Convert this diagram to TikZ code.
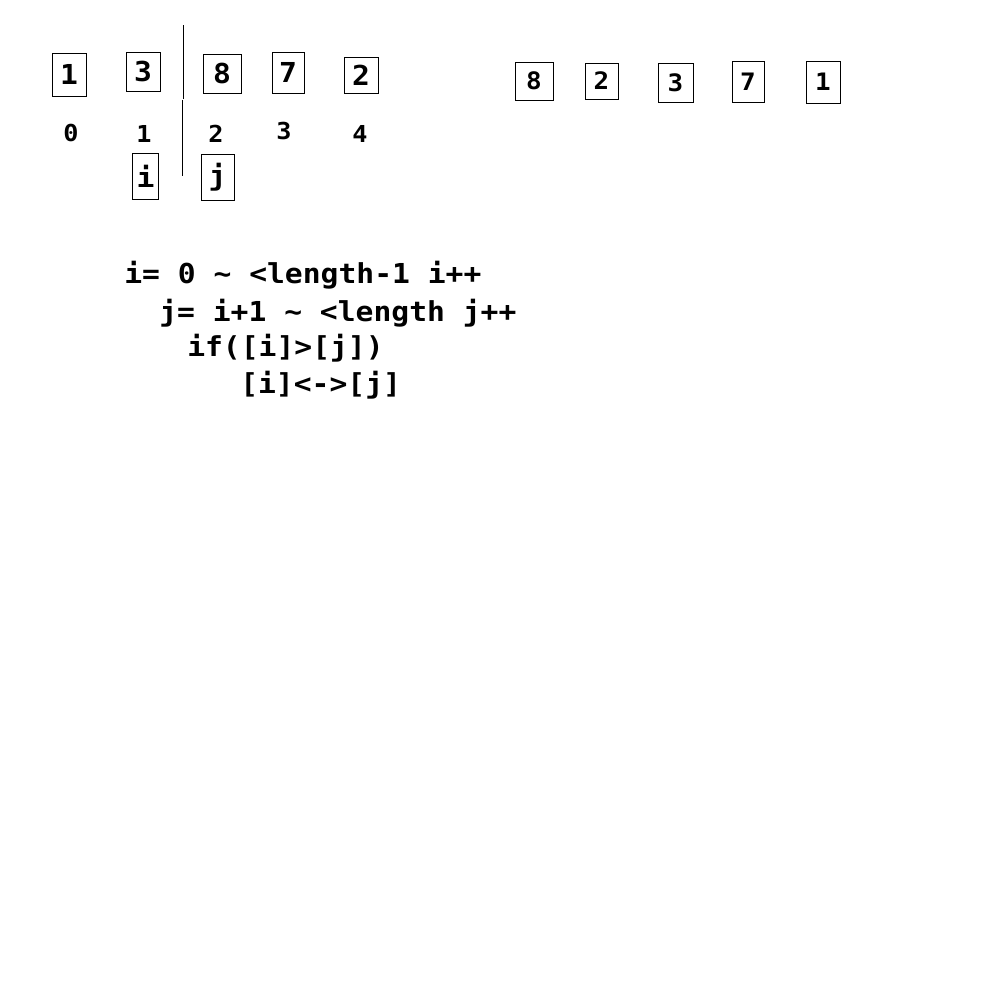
\documentclass[tikz,border=0pt]{standalone}
\usepackage{fontspec}
\setmonofont{DejaVu Sans Mono}[FakeStretch=1.08]
\newfontfamily\codefont{DejaVu Sans Mono}[FakeStretch=1.08]
\begin{document}
\begin{tikzpicture}[x=0.75pt,y=-0.75pt,
  cell/.style={draw,line width=0.75pt,inner sep=0pt,font=\codefont\bfseries\fontsize{20.6}{24}\selectfont},
  idx/.style={inner sep=0pt,font=\codefont\bfseries\fontsize{17.5}{21}\selectfont},
  rcell/.style={draw,line width=0.75pt,inner sep=0pt,font=\codefont\bfseries\fontsize{18}{22}\selectfont},
  code/.style={anchor=base west,inner sep=0pt,font=\codefont\bfseries\fontsize{20.6}{24}\selectfont},
  sep/.style={line width=0.75pt}]
\useasboundingbox[fill=white] (0,0) rectangle (1000,1000);
% left array
\node[cell,minimum width=34\pgflinewidth,minimum width=25.5pt,minimum height=32.25pt] (a0) at (69,74.5) {1};
\node[cell,minimum width=25.5pt,minimum height=29.25pt] (a1) at (143,71.5) {3};
\node[cell,minimum width=28.5pt,minimum height=29.25pt] (a2) at (222,73.5) {8};
\node[cell,minimum width=24pt,minimum height=30.75pt] (a3) at (288,72.5) {7};
\node[cell,minimum width=25.5pt,minimum height=27pt] (a4) at (361,75) {2};
% indices
\node[idx] (i0) at (71,133.5) {0};
\node[idx] (i1) at (144,133.5) {1};
\node[idx] (i2) at (216,133.5) {2};
\node[idx] (i3) at (284,131.5) {3};
\node[idx] (i4) at (360,133.5) {4};
% pointers
\node[cell,minimum width=19.5pt,minimum height=34.5pt] (pi) at (145.5,176) {i};
\node[cell,minimum width=24.75pt,minimum height=34.5pt] (pj) at (217.5,177) {j};
% separator
\coordinate (s1) at (183,25);
\coordinate (s2) at (183,99);
\coordinate (s3) at (182,100);
\coordinate (s4) at (182,176);
\draw[sep] (s1) -- (s2);
\draw[sep] (s3) -- (s4);
% right array
\node[rcell,minimum width=28.5pt,minimum height=28.5pt] (b0) at (534,81) {8};
\node[rcell,minimum width=24.75pt,minimum height=27pt] (b1) at (601.5,81) {2};
\node[rcell,minimum width=26.25pt,minimum height=29.25pt] (b2) at (675.5,82.5) {3};
\node[rcell,minimum width=24pt,minimum height=30.75pt] (b3) at (748,81.5) {7};
\node[rcell,minimum width=25.5pt,minimum height=31.5pt] (b4) at (823,82) {1};
% code
\node[code] (c1) at (124,283) {i= 0 \char`\~{} <length-1 i++};
\node[code] (c2) at (159,321) {j= i+1 \char`\~{} <length j++};
\node[code] (c3) at (187,356) {if([i]>[j])};
\node[code] (c4) at (240,393) {[i]<->[j]};
\end{tikzpicture}
\end{document}
